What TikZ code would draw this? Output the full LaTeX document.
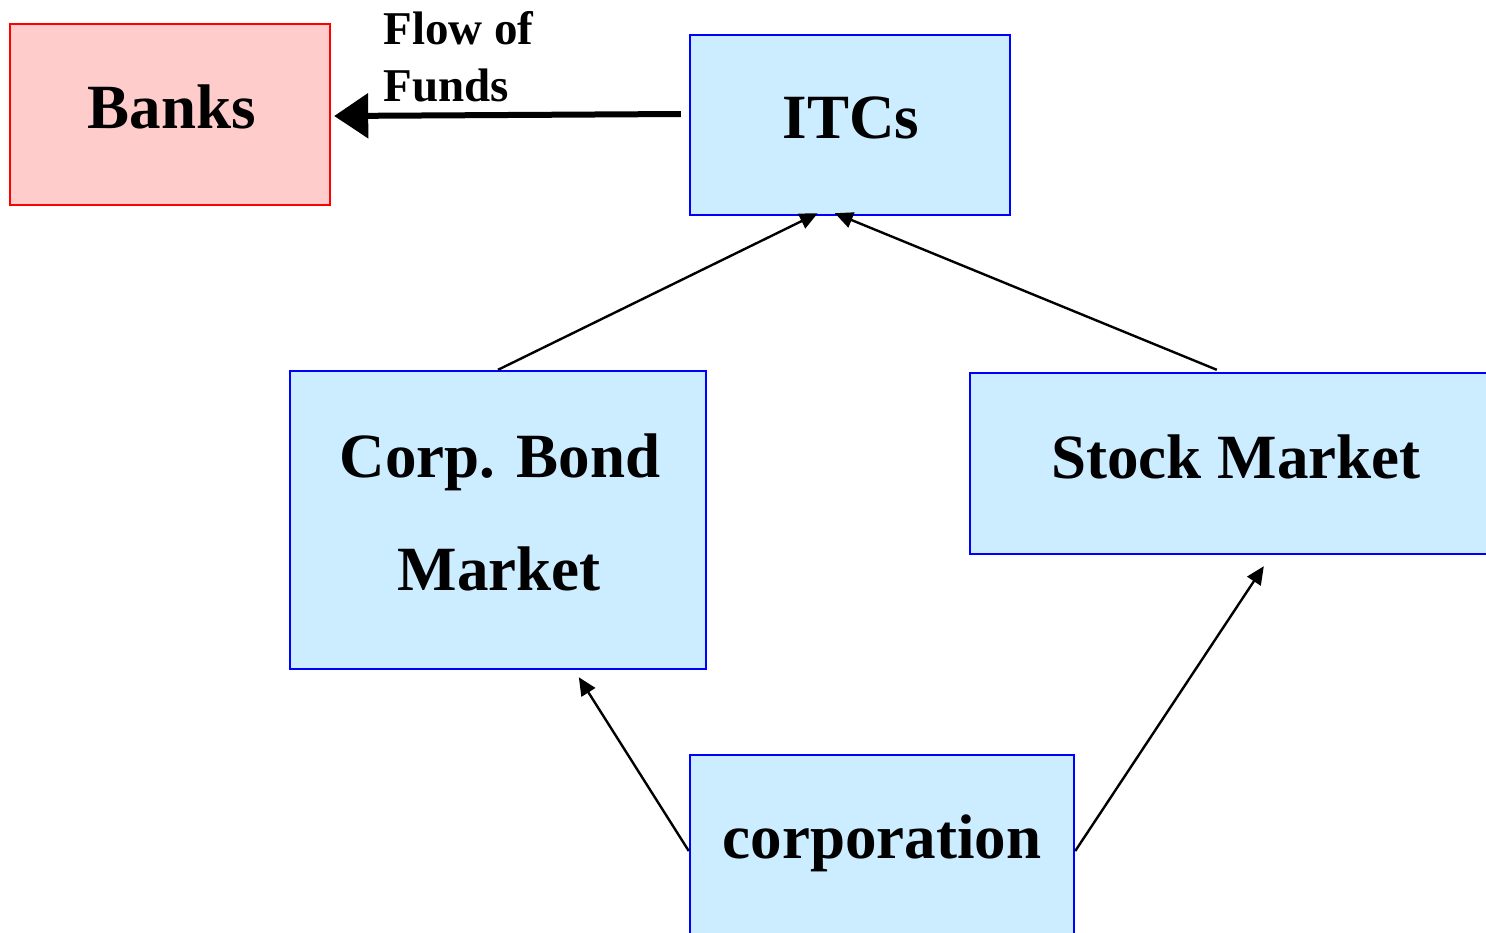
\documentclass[tikz,border=0pt]{standalone}
\usepackage{fontspec}
\setmainfont{Liberation Serif}
\usetikzlibrary{arrows.meta,calc}
\definecolor{bankfill}{HTML}{FFCCCC}
\definecolor{bankline}{HTML}{FF0000}
\definecolor{mktfill}{HTML}{CCECFF}
\definecolor{mktline}{HTML}{0000FF}
\tikzset{
  bankbox/.style={draw=bankline, fill=bankfill, line width=1.2pt, inner sep=0pt},
  mktbox/.style={draw=mktline, fill=mktfill, line width=1.2pt, inner sep=0pt},
  bigtxt/.style={font=\fontsize{31.5}{56.5}\selectfont\bfseries, align=center, inner sep=0pt},
  smalltxt/.style={font=\fontsize{23.5}{28.5}\selectfont\bfseries, align=left, inner sep=0pt, anchor=north west},
  flow/.style={line width=1.2pt, -{Triangle[length=9pt,width=8pt]}},
  bigflow/.style={line width=3pt, -{Triangle[length=17pt,width=22pt]}}
}
\begin{document}
\begin{tikzpicture}[x=0.5pt,y=-0.5pt]
\useasboundingbox (0,0) rectangle (1486,932);
\clip (0,0) rectangle (1486,932);
% boxes
\node[bankbox, minimum width=160pt, minimum height=90.5pt] (banks) at (170,114.5) {};
\node[mktbox, minimum width=160pt, minimum height=90pt] (itc) at (850,125) {};
\node[mktbox, minimum width=208pt, minimum height=149pt] (cbm) at (498,520) {};
\node[mktbox, minimum width=265pt, minimum height=90.5pt] (stock) at (1235,463.5) {};
\node[mktbox, minimum width=192pt, minimum height=96pt] (corp) at (882,851) {};
% labels
\node[bigtxt, anchor=base] (banksT) at (172,128) {Banks};
\node[bigtxt, anchor=base] (itcT) at (851,138) {ITCs};
\node[bigtxt, anchor=base] (cbmT1) at (500,477) {Corp. Bond};
\node[bigtxt, anchor=base] (cbmT2) at (499,590) {Market};
\node[bigtxt, anchor=base] (stockT) at (1236,478) {Stock Market};
\node[bigtxt, anchor=base] (corpT) at (882,858) {corporation};
\node[smalltxt, anchor=base west] (flowT1) at (383,44) {Flow of};
\node[smalltxt, anchor=base west] (flowT2) at (383,101) {Funds};
% connectors
\draw[bigflow] ($(itc.west)+(-8,-11)$) -- ($(banks.east)+(3,1.5)$);
\draw[flow] (cbm.north) -- ($(itc.south west)!0.4!(itc.south east)+(0,-3)$);
\draw[flow] ($(stock.north west)+(248,-2)$) -- ($(itc.south west)!0.453!(itc.south east)+(0,-3)$);
\draw[flow] (corp.west) -- ($(cbm.south west)+(290,7)$);
\draw[flow] (corp.east) -- ($(stock.south west)+(295,11)$);
\end{tikzpicture}
\end{document}
